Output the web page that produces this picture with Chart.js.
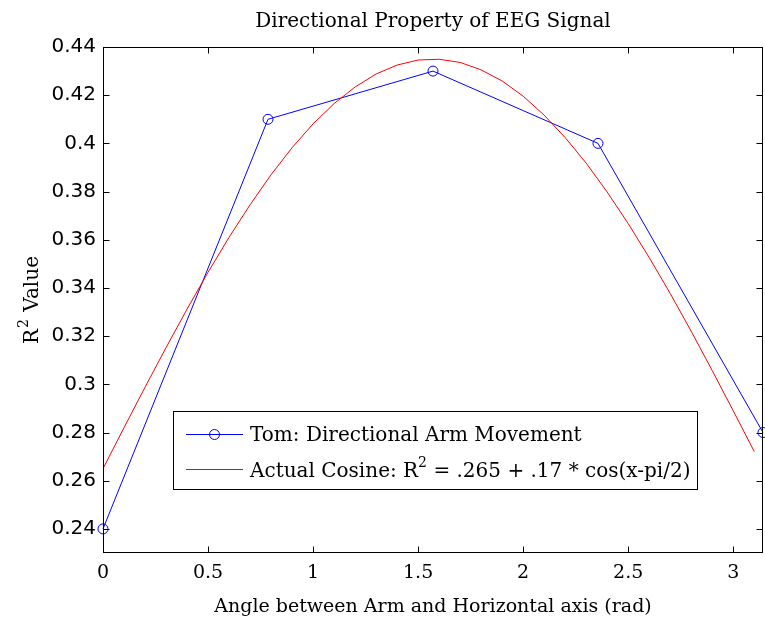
<!DOCTYPE html>
<html>
<head>
<meta charset="utf-8">
<script src="https://cdn.jsdelivr.net/npm/chart.js@4.4.1/dist/chart.umd.min.js"></script>
<style>
html,body{margin:0;padding:0;background:#fff;}
</style>
</head>
<body>
<canvas id="eegChart" width="765" height="621"></canvas>
<script>
// measured points (blue) at 0, pi/4, pi/2, 3pi/4, pi
const angles=[0,0.7854,1.5708,2.3562,3.1416];
const rValues=[0.24,0.41,0.43,0.40,0.28];

// red cosine curve
const cosX=[0,0.1,0.2,0.3,0.4,0.5,0.6,0.7,0.8,0.9,1.0,1.1,1.2,1.3,1.4,1.5,1.6,1.7,1.8,1.9,2.0,2.1,2.2,2.3,2.4,2.5,2.6,2.7,2.8,2.9,3.0,3.1];
const cosY=[0.265,0.282,0.2988,0.3152,0.3312,0.3465,0.361,0.3745,0.387,0.3982,0.4081,0.4165,0.4234,0.4288,0.4325,0.4346,0.4349,0.4336,0.4305,0.4259,0.4196,0.4117,0.4024,0.3918,0.3798,0.3667,0.3526,0.3377,0.322,0.3057,0.289,0.2721];

const xTicks=[0,0.5,1,1.5,2,2.5,3];
const yTicks=[0.24,0.26,0.28,0.3,0.32,0.34,0.36,0.38,0.4,0.42,0.44];

const serif="'DejaVu Serif', serif";

const matlabBox={
id:"matlabBox",
afterLayout(chart){
// stretch the axes box to the right edge like the matlab figure
let xs=chart.scales.x;
let a=chart.chartArea;
a.right=763;
a.width=a.right-a.left;
xs.right=763;
xs.width=xs.right-xs.left;
xs.configure();
},
afterDraw(chart){
let ctx=chart.ctx;
let a=chart.chartArea;
let xs=chart.scales.x;
let ys=chart.scales.y;
let l=Math.round(a.left)+0.5, r=Math.round(a.right)-0.5;
let t=Math.round(a.top)+0.5, b=Math.round(a.bottom)-0.5;

ctx.save();
ctx.strokeStyle="#000";
ctx.lineWidth=1;
ctx.strokeRect(l,t,r-l,b-t);

ctx.beginPath();
xTicks.forEach(v=>{
let px=Math.round(xs.getPixelForValue(v))+0.5;
ctx.moveTo(px,b); ctx.lineTo(px,b-6);
ctx.moveTo(px,t); ctx.lineTo(px,t+6);
});
yTicks.forEach(v=>{
let py=Math.round(ys.getPixelForValue(v))+0.5;
ctx.moveTo(l,py); ctx.lineTo(l+6,py);
ctx.moveTo(r,py); ctx.lineTo(r-6,py);
});
ctx.stroke();

// title, centred on the axes box
ctx.fillStyle="#000";
ctx.font="20px "+serif;
ctx.textAlign="center";
ctx.textBaseline="middle";
ctx.fillText("Directional Property of EEG Signal",(a.left+a.right)/2,22);
ctx.textAlign="left";

// legend
ctx.fillStyle="#fff";
ctx.fillRect(173,411,524,78);
ctx.strokeRect(173.5,411.5,524,78);

ctx.strokeStyle="#0000ff";
ctx.beginPath();
ctx.moveTo(186,434.5); ctx.lineTo(243,434.5);
ctx.stroke();
ctx.beginPath();
ctx.arc(214.5,434.5,5,0,Math.PI*2);
ctx.stroke();

ctx.strokeStyle="#ff0000";
ctx.beginPath();
ctx.moveTo(186,469.5); ctx.lineTo(243,469.5);
ctx.stroke();

ctx.fillStyle="#000";
ctx.textBaseline="alphabetic";
ctx.font="20px "+serif;
ctx.fillText("Tom: Directional Arm Movement",250,441);

let x=250;
let part1="Actual Cosine: R";
ctx.fillText(part1,x,477);
x+=ctx.measureText(part1).width;
ctx.font="14px "+serif;
ctx.fillText("2",x,467);
x+=ctx.measureText("2").width;
ctx.font="20px "+serif;
ctx.fillText(" = .265 + .17 * cos(x-pi/2)",x,477);

// y axis label with superscript
ctx.translate(38,300);
ctx.rotate(-Math.PI/2);
ctx.font="20px "+serif;
let w1=ctx.measureText("R").width;
ctx.font="14px "+serif;
let w2=ctx.measureText("2").width;
ctx.font="20px "+serif;
let w3=ctx.measureText(" Value").width;
let sx=-(w1+w2+2+w3)/2;
ctx.fillText("R",sx,0);
ctx.font="14px "+serif;
ctx.fillText("2",sx+w1+1,-10);
ctx.font="20px "+serif;
ctx.fillText(" Value",sx+w1+w2+2,0);

ctx.restore();
}
};

new Chart(document.getElementById("eegChart"),{
type:"scatter",
data:{
datasets:[
{
label:"Actual Cosine",
data:cosX.map((v,i)=>({x:v,y:cosY[i]})),
showLine:true,
borderColor:"#ff0000",
borderWidth:1,
pointRadius:0,
tension:0
},
{
label:"Tom: Directional Arm Movement",
data:angles.map((v,i)=>({x:v,y:rValues[i]})),
showLine:true,
borderColor:"#0000ff",
borderWidth:1,
pointRadius:5,
pointBorderColor:"#0000ff",
pointBackgroundColor:"rgba(0,0,0,0)",
pointBorderWidth:1,
clip:false,
tension:0
}
]
},
options:{
responsive:false,
animation:false,
layout:{padding:{left:0,right:2,top:47,bottom:0}},
plugins:{
legend:{display:false},
tooltip:{enabled:false},
title:{display:false}
},
scales:{
x:{
type:"linear",
min:0,
max:Math.PI,
afterBuildTicks:s=>{s.ticks=xTicks.map(v=>({value:v}));},
afterFit:s=>{s.height=68;s.paddingLeft=0;s.paddingRight=0;},
grid:{display:false,drawTicks:false},
border:{display:false},
ticks:{
color:"#000",
font:{family:serif,size:19},
padding:9,
maxRotation:0,
autoSkip:false,
callback:v=>String(v)
},
title:{
display:true,
text:"Angle between Arm and Horizontal axis (rad)",
color:"#000",
font:{family:serif,size:19},
padding:{top:0,bottom:3}
}
},
y:{
type:"linear",
min:0.23,
max:0.44,
afterBuildTicks:s=>{s.ticks=yTicks.map(v=>({value:v}));},
afterFit:s=>{s.width=103;s.paddingTop=0;s.paddingBottom=0;},
grid:{display:false,drawTicks:false},
border:{display:false},
ticks:{
color:"#000",
font:{family:"'DejaVu Sans', sans-serif",size:20},
padding:7,
autoSkip:false,
callback:v=>String(Math.round(v*100)/100)
}
}
}
},
plugins:[matlabBox]
});
</script>
</body>
</html>
